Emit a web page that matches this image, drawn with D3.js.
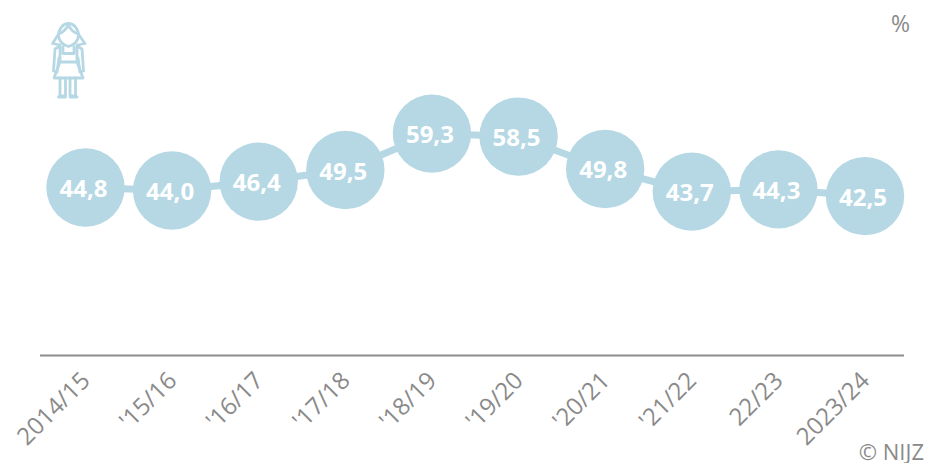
<!DOCTYPE html>
<html><head><meta charset="utf-8">
<script src="https://cdn.jsdelivr.net/npm/d3@7"></script>
<style>html,body{margin:0;background:#fff}svg{display:block}text{font-family:"Open Sans",sans-serif}</style>
</head><body><svg id="c" width="926" height="463"></svg>
<script>
const categories = ["2014/15","'15/16","'16/17","'17/18","'18/19","'19/20","'20/21","'21/22","22/23","2023/24"];
const values = [44.8,44.0,46.4,49.5,59.3,58.5,49.8,43.7,44.3,42.5];
const unit = "%";
const credit = "© NIJZ";
const blue = "#b5d8e4", grey = "#8a8a8a";
const svg = d3.select("#c");
const x = d3.scalePoint().domain(categories).range([85.5,865]);
const y = d3.scaleLinear().domain([0,100]).range([354.2,-17.8]);
const fmt = v => v.toFixed(1).replace(".",",");

// baseline
svg.append("line").attr("x1",40).attr("x2",904).attr("y1",355.5).attr("y2",355.5)
  .attr("stroke","#8c8c8c").attr("stroke-width",2);

// line and points
const line = d3.line().x((d,i)=>x(categories[i])).y(d=>y(d));
svg.append("path").attr("d",line(values)).attr("fill","none").attr("stroke",blue).attr("stroke-width",7);
svg.selectAll("circle.pt").data(values).join("circle").attr("class","pt")
  .attr("cx",(d,i)=>x(categories[i])).attr("cy",d=>y(d)).attr("r",39.2).attr("fill",blue);
svg.selectAll("text.val").data(values).join("text").attr("class","val")
  .attr("x",(d,i)=>x(categories[i])-2).attr("y",d=>y(d)+9.5)
  .attr("text-anchor","middle").attr("fill","#fff").attr("font-size",24).attr("font-weight",700)
  .text(fmt);

// tick labels
svg.selectAll("text.tick").data(categories).join("text").attr("class","tick")
  .attr("transform",d=>`translate(${x(d)+6},${382}) rotate(-45)`)
  .attr("text-anchor","end").attr("fill",grey).attr("font-size",24).text(d=>d);

svg.append("text").attr("x",910).attr("y",32).attr("text-anchor","end").attr("fill",grey).attr("font-size",23).text(unit);
svg.append("text").attr("x",924).attr("y",460).attr("text-anchor","end").attr("fill",grey).attr("font-size",22).text(credit);

// girl pictogram
const g = svg.append("g").attr("fill","none").attr("stroke",blue).attr("stroke-width",2.8).attr("stroke-linejoin","round").attr("stroke-linecap","round");
[
 "M58.500 36a10 12.500 0 1 1 20 0q-1 8-10 10.500q-9-2.500-10-10.500z",
 "M58.500 34q6-2 10-9q3 7 10 9",
 "M58 35l-5.500 8.500l7.500 1.500M79 35l6 8.500l-7.500 1.500",
 "M60 46l-5 3l-1.500 22l3.500 1l2-14M77 46l5 3l1.500 22l-3.500 1l-2-14",
 "M63 47v6.500h11v-6.500M60 47v15l-6 16h29l-6-16v-15M60 62h17",
 "M60 78v18h5.500v-18M70 78v18h5.500v-18M58.500 97h7M70 97h7"
].forEach(d=>g.append("path").attr("d",d));
</script></body></html>
